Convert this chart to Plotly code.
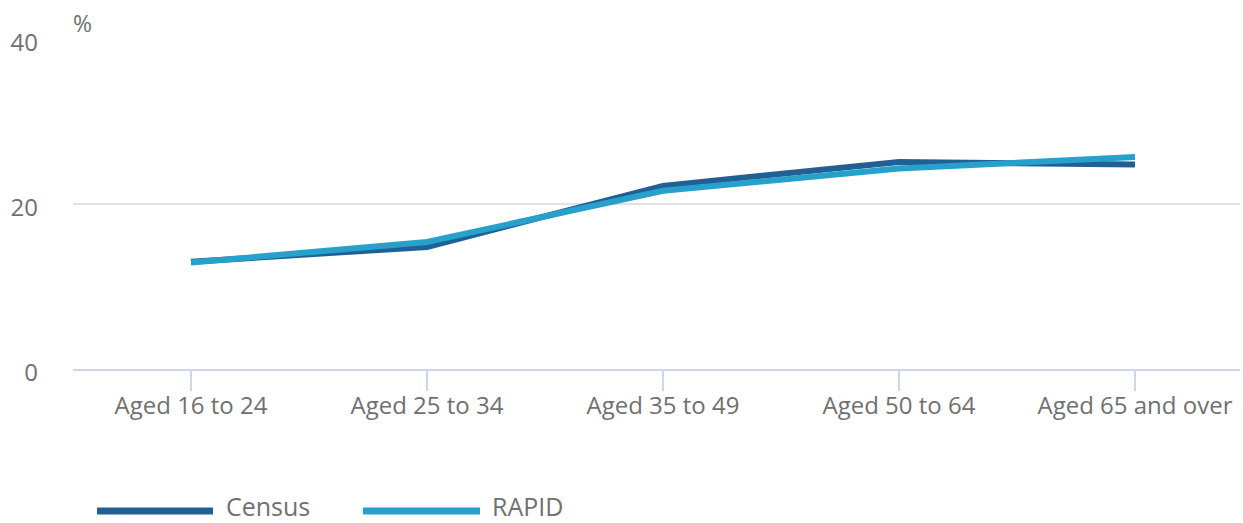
import plotly.graph_objects as go

categories = ["Aged 16 to 24", "Aged 25 to 34", "Aged 35 to 49", "Aged 50 to 64", "Aged 65 and over"]
census = [13.0, 14.8, 22.2, 25.1, 24.8]
rapid = [12.9, 15.4, 21.6, 24.3, 25.7]
series_names = ["Census", "RAPID"]
y_ticks = [0, 20, 40]

DARK = "#206095"
LIGHT = "#27A0CC"
TXT = "#707070"
FONT = "Open Sans"

W, H = 1243, 523
ML, MR, MT, MB = 73, 3, 39, 154
PW = W - ML - MR
PH = H - MT - MB

fig = go.Figure()
fig.add_trace(go.Scatter(x=categories, y=census, mode="lines", name=series_names[0],
                         line=dict(color=DARK, width=6), showlegend=False))
fig.add_trace(go.Scatter(x=categories, y=rapid, mode="lines", name=series_names[1],
                         line=dict(color=LIGHT, width=6), showlegend=False))

def px_x(p):
    return (p - ML) / PW

def px_y(p):
    return (H - MB - p) / PH

shapes = []
annotations = []
legend_items = [(series_names[0], DARK, 97, 213, 227), (series_names[1], LIGHT, 363, 480, 493)]
for name, col, x0, x1, tx in legend_items:
    shapes.append(dict(type="line", xref="paper", yref="paper",
                       x0=px_x(x0), x1=px_x(x1), y0=px_y(511), y1=px_y(511),
                       line=dict(color=col, width=7)))
    annotations.append(dict(text=name, xref="paper", yref="paper", x=px_x(tx - 2), y=px_y(506),
                            xanchor="left", yanchor="middle", showarrow=False, borderpad=0,
                            font=dict(family=FONT, size=25, color=TXT)))

annotations.append(dict(text="%", xref="paper", yref="paper", x=px_x(71), y=px_y(23),
                        xanchor="left", yanchor="middle", showarrow=False,
                        font=dict(family=FONT, size=23, color=TXT)))

fig.update_layout(
    width=W, height=H, autosize=False,
    margin=dict(l=ML, r=MR, t=MT, b=MB),
    paper_bgcolor="white", plot_bgcolor="white",
    font=dict(family=FONT, size=24, color=TXT),
    shapes=shapes, annotations=annotations,
    showlegend=False,
    xaxis=dict(type="category", range=[-0.5, 4.445], showgrid=False,
               showline=True, linecolor="#cdd6ea", linewidth=2,
               ticks="outside", ticklen=20, tickcolor="#cdd6ea", tickwidth=2,
               ticklabelstandoff=-6,
               tickfont=dict(family=FONT, size=24, color=TXT), zeroline=False),
    yaxis=dict(range=[0, 40], tickvals=y_ticks, showgrid=True, gridcolor="#e2e2e2", gridwidth=2,
               zeroline=False, showline=False, ticks="", ticklabelstandoff=34, ticklabelshift=4,
               tickfont=dict(family=FONT, size=24, color=TXT)),
)

fig.write_html("out.html", config={"displayModeBar": False},
               post_script="document.body.style.margin='0';document.body.style.overflow='hidden';")
